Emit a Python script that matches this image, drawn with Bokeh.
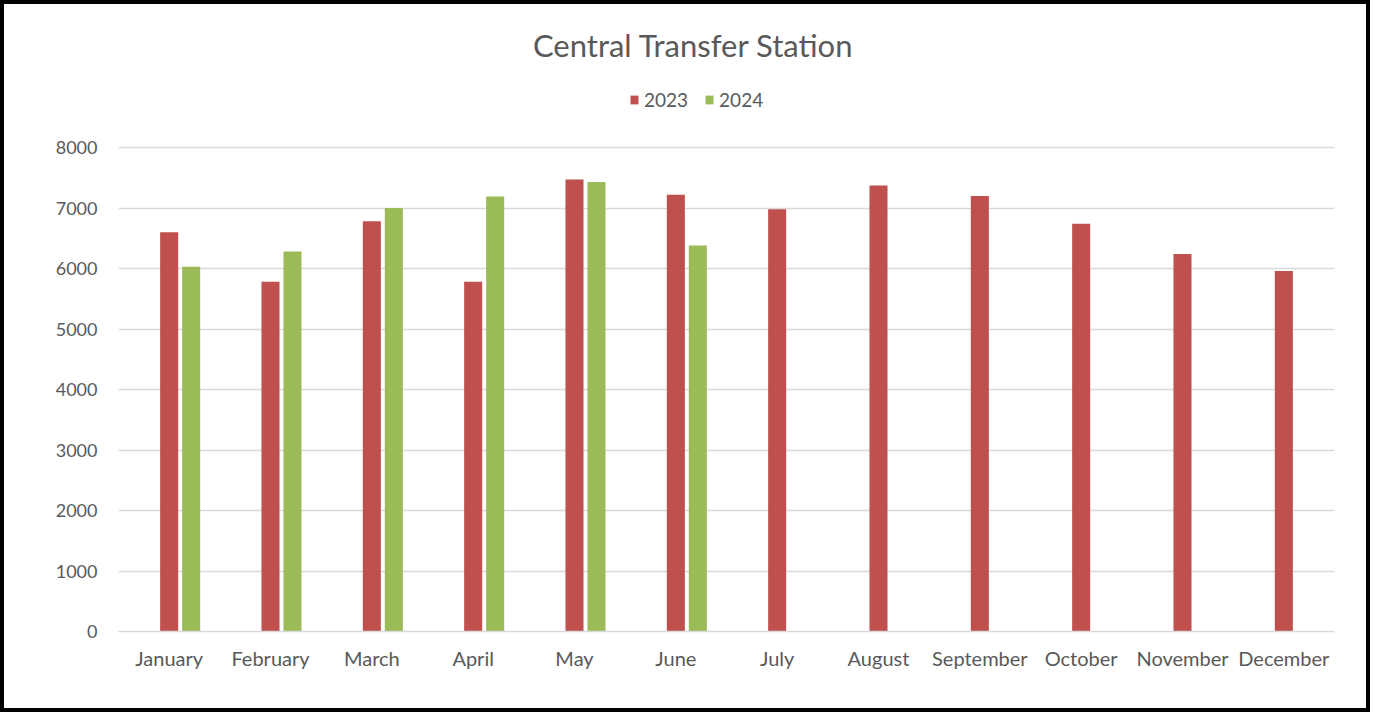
from bokeh.plotting import figure
from bokeh.models import (ColumnDataSource, FactorRange, Range1d, Legend, LegendItem,
                          FixedTicker, Label)
from bokeh.transform import dodge
from bokeh.embed import file_html
from bokeh.resources import INLINE

months = ["January", "February", "March", "April", "May", "June", "July",
          "August", "September", "October", "November", "December"]
vals_2023 = [6600, 5780, 6780, 5780, 7470, 7220, 6980, 7370, 7200, 6740, 6240, 5960]
vals_2024 = [6030, 6280, 7000, 7190, 7430, 6380]
y_ticks = [0, 1000, 2000, 3000, 4000, 5000, 6000, 7000, 8000]

RED = "#C0504D"
GREEN = "#9BBB59"
TXT = "#595959"
GRID = "#D9D9D9"
FONT = "Lato"

# layout (canvas pixels)
W, H = 1370, 712
FL, FR, FB = 118, 1334, 631       # frame left / right / bottom
GRID_TOP = 147                     # pixel row of the 8000 gridline
FT = 8                             # frame top (frame extends above the plot area for title/legend)
y_top = 8000 * (FB - FT) / (FB - GRID_TOP)

src23 = ColumnDataSource(dict(month=months, v=vals_2023))
src24 = ColumnDataSource(dict(month=months[:len(vals_2024)], v=vals_2024))

p = figure(width=W, height=H, output_backend="svg", toolbar_location=None,
           x_range=FactorRange(factors=months, range_padding=0),
           y_range=Range1d(0, y_top),
           min_border_left=FL, min_border_right=W - FR, min_border_top=FT, min_border_bottom=H - FB)
p.outline_line_color = None
p.background_fill_color = "white"
p.border_fill_alpha = 0
p.styles = {"outline": "4px solid black", "outline-offset": "-4px"}

r1 = p.vbar(x=dodge("month", 0.0, range=p.x_range), top="v", width=0.178, source=src23,
            fill_color=RED, line_color=None)
r2 = p.vbar(x=dodge("month", 0.217, range=p.x_range), top="v", width=0.178, source=src24,
            fill_color=GREEN, line_color=None)

p.yaxis.ticker = FixedTicker(ticks=y_ticks)
p.ygrid.ticker = FixedTicker(ticks=y_ticks)
p.ygrid.grid_line_color = GRID
p.ygrid.grid_line_width = 1.3
p.xgrid.grid_line_color = None

for ax in (p.xaxis, p.yaxis):
    ax.major_tick_line_color = None
    ax.minor_tick_line_color = None
    ax.major_label_text_font = FONT
    ax.major_label_text_color = TXT
p.yaxis.major_label_text_font_size = "18px"
p.xaxis.major_label_text_font_size = "20px"
p.yaxis.axis_line_color = None
p.yaxis.major_label_standoff = 15
p.xaxis.axis_line_color = GRID
p.xaxis.axis_line_width = 1.3
p.xaxis.major_label_standoff = 8

title = Label(x=693 - FL, y=FB - 44, x_units="screen", y_units="screen",
              text="Central Transfer Station", text_align="center", text_baseline="middle",
              text_font=FONT, text_font_size="31px", text_color=TXT)
p.add_layout(title)

legend = Legend(items=[LegendItem(label="2023", renderers=[r1]),
                       LegendItem(label="2024", renderers=[r2])],
                orientation="horizontal", location=(629 - FL, FB - 111),
                padding=0, margin=0, spacing=16, label_standoff=5,
                glyph_width=10, glyph_height=11,
                label_text_font=FONT, label_text_font_size="19px", label_text_color=TXT,
                background_fill_alpha=0, border_line_color=None)
p.add_layout(legend, "center")

open("out.html", "w").write(file_html(p, INLINE))
